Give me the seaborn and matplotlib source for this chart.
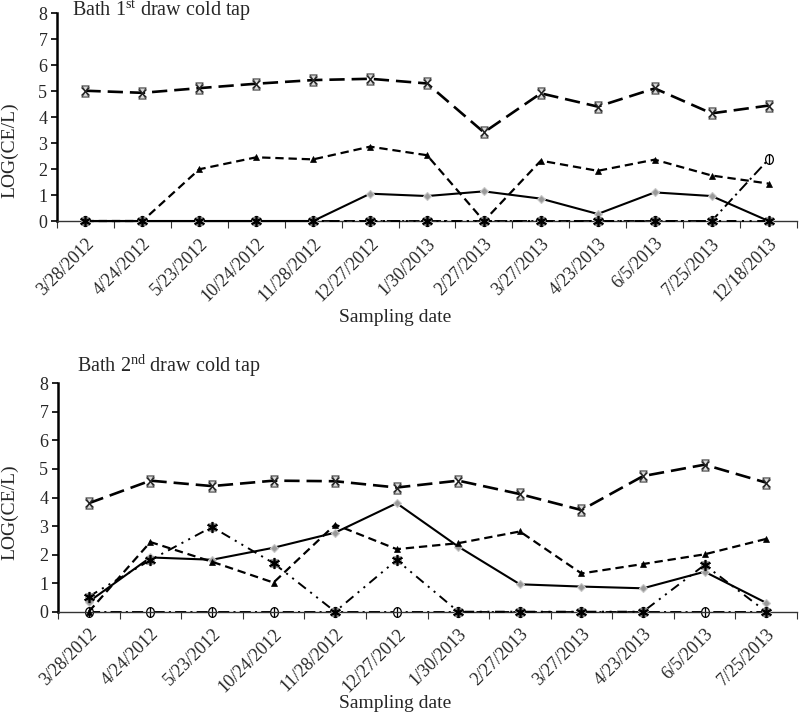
import numpy as np
import pandas as pd
import matplotlib
matplotlib.use("Agg")
import matplotlib.pyplot as plt
from matplotlib.path import Path
import seaborn as sns

sns.set_theme(style="white")
plt.rcParams['font.family'] = ['Liberation Serif', 'DejaVu Serif']
plt.rcParams['mathtext.fontset'] = 'custom'
plt.rcParams['mathtext.rm'] = 'Liberation Serif'
plt.rcParams['mathtext.it'] = 'Liberation Serif:italic'
plt.rcParams['lines.scale_dashes'] = False

# ---------------- data ----------------
top_dates = ["3/28/2012", "4/24/2012", "5/23/2012", "10/24/2012", "11/28/2012",
             "12/27/2012", "1/30/2013", "2/27/2013", "3/27/2013", "4/23/2013",
             "6/5/2013", "7/25/2013", "12/18/2013"]
top_hourglass = [5.01, 4.93, 5.11, 5.28, 5.42, 5.47, 5.29, 3.41, 4.91, 4.40, 5.10, 4.14, 4.44]
top_triangle = [0, 0, 1.99, 2.45, 2.37, 2.86, 2.53, 0, 2.32, 1.93, 2.36, 1.75, 1.44]
top_diamond = [0, 0, 0, 0, 0, 1.05, 0.96, 1.14, 0.86, 0.27, 1.10, 0.96, 0]
top_circle = [0, 0, 0, 0, 0, 0, 0, 0, 0, 0, 0, 0, 2.37]
top_star = [0, 0, 0, 0, 0, 0, 0, 0, 0, 0, 0, 0, 0]

bot_dates = ["3/28/2012", "4/24/2012", "5/23/2012", "10/24/2012", "11/28/2012",
             "12/27/2012", "1/30/2013", "2/27/2013", "3/27/2013", "4/23/2013",
             "6/5/2013", "7/25/2013"]
bot_hourglass = [3.80, 4.59, 4.40, 4.59, 4.57, 4.35, 4.59, 4.12, 3.56, 4.75, 5.15, 4.52]
bot_triangle = [0, 2.44, 1.75, 1.02, 3.05, 2.19, 2.40, 2.81, 1.34, 1.67, 2.01, 2.55]
bot_diamond = [0.35, 1.90, 1.82, 2.24, 2.77, 3.80, 2.28, 0.96, 0.88, 0.82, 1.40, 0.31]
bot_circle = [0, 0, 0, 0, 0, 0, 0, 0, 0, 0, 0, 0]
bot_star = [0.53, 1.81, 2.97, 1.70, 0, 1.81, 0, 0, 0, 0, 1.64, 0]

titles = ["Bath 1$^{\\mathrm{st}}$ draw cold tap", "Bath 2$^{\\mathrm{nd}}$ draw cold tap"]
y_label = "LOG(CE/L)"
x_label = "Sampling date"
y_ticks = [0, 1, 2, 3, 4, 5, 6, 7, 8]

# ---------------- marker shapes ----------------
hourglass = Path([(-0.65, 1), (0.65, 1), (-0.65, -1), (0.65, -1), (-0.65, 1)],
                 [Path.MOVETO, Path.LINETO, Path.LINETO, Path.LINETO, Path.CLOSEPOLY])
_uc = Path.unit_circle()
oval = Path(_uc.vertices * np.array([0.8, 1.0]), _uc.codes)
asterisk = (6, 2, 0)

W, H = 800, 717
fig = plt.figure(figsize=(W / 100, H / 100), dpi=100)

def fx(px):
    return px / W

def fy(py):
    return 1 - py / H

ax_top = fig.add_axes([fx(57), fy(221), fx(797) - fx(57), fy(13) - fy(221)])
ax_bot = fig.add_axes([fx(58), fy(611.7), fx(797) - fx(58), fy(383.3) - fy(611.7)])


def draw_panel(ax, dates, hg, tri, dia, cir, star):
    x = np.arange(len(dates))
    common = dict(ax=ax, legend=False, errorbar=None, color="black")
    # circle series (long dash-dot)
    sns.lineplot(x=x, y=cir, linestyle=(0, (8, 3, 1.5, 3)), linewidth=1.4,
                 marker=oval, markersize=7, markerfacecolor="white",
                 markeredgecolor="black", markeredgewidth=0.9, zorder=2, **common)
    ax.plot(x, cir, linestyle="none", marker="|", markersize=7, color="black",
            markeredgewidth=0.9, zorder=2.1)
    # diamond series (solid)
    sns.lineplot(x=x, y=dia, linestyle="-", linewidth=1.5,
                 marker="D", markersize=4.5, markerfacecolor="#9a9a9a",
                 markeredgecolor="#c8c8c8", markeredgewidth=0.8, zorder=3, **common)
    # triangle series (short dash)
    sns.lineplot(x=x, y=tri, linestyle=(0, (6, 3.5)), linewidth=1.6,
                 marker="^", markersize=5, markerfacecolor="black",
                 markeredgecolor="black", markeredgewidth=0.5, zorder=4, **common)
    # hourglass series (long dash)
    sns.lineplot(x=x, y=hg, linestyle=(0, (11, 5)), linewidth=1.9,
                 marker=hourglass, markersize=8, markerfacecolor="#d9d9d9",
                 markeredgecolor="#444444", markeredgewidth=0.8, zorder=5, **common)
    ax.plot(x, hg, linestyle="none", marker="x", markersize=6, color="#222222",
            markeredgewidth=0.9, zorder=5.1)
    # asterisk series (dash-dot-dot)
    sns.lineplot(x=x, y=star, linestyle=(0, (7, 4, 1.5, 4, 1.5, 4)), linewidth=1.4,
                 marker="s", markersize=6, markerfacecolor="#7a7a7a",
                 markeredgecolor="#9a9a9a", markeredgewidth=0.5, zorder=6, **common)
    ax.plot(x, star, linestyle="none", marker=asterisk, markersize=8, color="black",
            markeredgewidth=1.2, zorder=6.1)

    n = len(dates)
    ax.set_xlim(-0.5, n - 0.5)
    ax.set_ylim(0, 8)
    ax.set_yticks(y_ticks)
    ax.set_yticklabels([str(t) for t in y_ticks], fontsize=13)
    ax.set_xticks(np.arange(n + 1) - 0.5)
    ax.set_xticklabels([])
    ax.set_xticks(x, minor=True)
    ax.set_xticklabels(dates, minor=True, rotation=45, ha="right", va="top",
                       rotation_mode="anchor", fontsize=13)
    ax.tick_params(axis="x", which="major", direction="out", length=5, width=0.8,
                   color="#333333", bottom=True)
    ax.tick_params(axis="x", which="minor", length=0, pad=10, bottom=True)
    ax.tick_params(axis="y", direction="out", length=4, width=1.2, color="black",
                   left=True, pad=3)
    for s in ["top", "right"]:
        ax.spines[s].set_visible(False)
    ax.spines["left"].set_color("black")
    ax.spines["left"].set_linewidth(1.8)
    ax.spines["bottom"].set_color("#333333")
    ax.spines["bottom"].set_linewidth(1.0)
    ax.set_xlabel("")
    ax.set_ylabel("")
    ax.grid(False)
    for line in ax.lines:
        line.set_clip_on(False)


draw_panel(ax_top, top_dates, top_hourglass, top_triangle, top_diamond, top_circle, top_star)
draw_panel(ax_bot, bot_dates, bot_hourglass, bot_triangle, bot_diamond, bot_circle, bot_star)

fig.text(fx(72), fy(16), titles[0], fontsize=14.5, ha="left", va="baseline")
fig.text(fx(77), fy(372), titles[1], fontsize=14.5, ha="left", va="baseline")
fig.text(fx(10), fy(150), y_label, fontsize=14, rotation=90, ha="center", va="center")
fig.text(fx(10), fy(512), y_label, fontsize=14, rotation=90, ha="center", va="center")
fig.text(fx(395), fy(318), x_label, fontsize=14, ha="center", va="center")
fig.text(fx(395), fy(703), x_label, fontsize=14, ha="center", va="center")

fig.savefig("out.png", dpi=100)
